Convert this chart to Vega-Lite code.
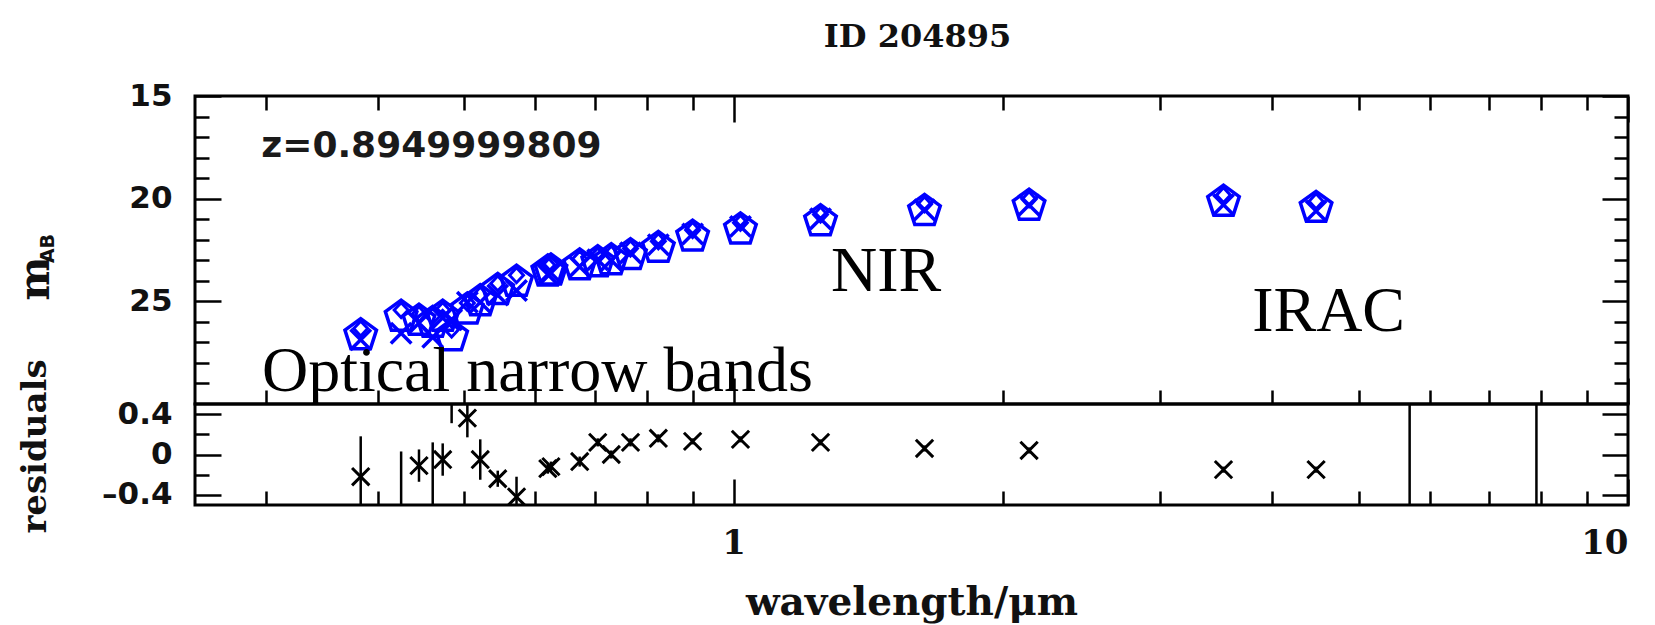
{
  "$schema": "https://vega.github.io/schema/vega-lite/v6.json",
  "background": "white",
  "padding": {"left": 12, "top": 20, "right": 25, "bottom": 2},
  "title": {
    "text": "ID 204895",
    "font": "DejaVu Serif",
    "fontSize": 32,
    "fontWeight": "bold",
    "color": "#111111",
    "anchor": "middle",
    "frame": "group",
    "offset": 25,
    "dx": 6
  },
  "datasets": {
    "bands": [
      {"lam": 0.383, "model": 26.65, "obs": 26.87, "resid": -0.22, "lo": -0.62, "hi": 0.18},
      {"lam": 0.425, "model": 25.75, "obs": 26.55, "resid": -0.80, "lo": -1.63, "hi": 0.03},
      {"lam": 0.445, "model": 25.95, "obs": 26.06, "resid": -0.11, "lo": -0.27, "hi": 0.05},
      {"lam": 0.461, "model": 26.05, "obs": 26.75, "resid": -0.70, "lo": -1.52, "hi": 0.12},
      {"lam": 0.473, "model": 25.75, "obs": 25.80, "resid": -0.05, "lo": -0.21, "hi": 0.11},
      {"lam": 0.484, "model": 26.70, "obs": 25.90, "resid": 0.80, "lo": 0.31, "hi": 1.29},
      {"lam": 0.504, "model": 25.40, "obs": 25.04, "resid": 0.36, "lo": 0.17, "hi": 0.55},
      {"lam": 0.521, "model": 25.00, "obs": 25.05, "resid": -0.05, "lo": -0.25, "hi": 0.15},
      {"lam": 0.545, "model": 24.45, "obs": 24.69, "resid": -0.24, "lo": -0.32, "hi": -0.16},
      {"lam": 0.572, "model": 24.05, "obs": 24.47, "resid": -0.42, "lo": -0.62, "hi": -0.22},
      {"lam": 0.620, "model": 23.55, "obs": 23.69, "resid": -0.14, "lo": -0.19, "hi": -0.09},
      {"lam": 0.625, "model": 23.50, "obs": 23.62, "resid": -0.12, "lo": -0.17, "hi": -0.07},
      {"lam": 0.673, "model": 23.25, "obs": 23.32, "resid": -0.07, "lo": -0.12, "hi": -0.02},
      {"lam": 0.705, "model": 23.10, "obs": 22.98, "resid": 0.12, "lo": 0.08, "hi": 0.16},
      {"lam": 0.730, "model": 23.00, "obs": 23.00, "resid": 0.00, "lo": -0.04, "hi": 0.04},
      {"lam": 0.767, "model": 22.75, "obs": 22.63, "resid": 0.12, "lo": 0.08, "hi": 0.16},
      {"lam": 0.824, "model": 22.40, "obs": 22.24, "resid": 0.16, "lo": 0.12, "hi": 0.20},
      {"lam": 0.900, "model": 21.85, "obs": 21.72, "resid": 0.13, "lo": 0.10, "hi": 0.16},
      {"lam": 1.018, "model": 21.50, "obs": 21.35, "resid": 0.15, "lo": 0.12, "hi": 0.18},
      {"lam": 1.251, "model": 21.10, "obs": 20.98, "resid": 0.12, "lo": 0.09, "hi": 0.15},
      {"lam": 1.635, "model": 20.60, "obs": 20.54, "resid": 0.06, "lo": 0.03, "hi": 0.09},
      {"lam": 2.140, "model": 20.35, "obs": 20.31, "resid": 0.04, "lo": 0.01, "hi": 0.07},
      {"lam": 3.530, "model": 20.15, "obs": 20.30, "resid": -0.15, "lo": -0.18, "hi": -0.12},
      {"lam": 4.480, "model": 20.45, "obs": 20.60, "resid": -0.15, "lo": -0.18, "hi": -0.12},
      {"lam": 5.700, "model": null, "obs": null, "resid": -3.0, "lo": -9.0, "hi": 3.0},
      {"lam": 7.900, "model": null, "obs": null, "resid": -3.0, "lo": -9.0, "hi": 3.0}
    ],
    "notes": [
      {"label": "Optical narrow bands", "lam": 0.297, "mag": 29.37},
      {"label": "NIR", "lam": 1.285, "mag": 24.51},
      {"label": "IRAC", "lam": 3.80, "mag": 26.43}
    ],
    "redshift": [
      {"label": "z=0.8949999809", "lam": 0.2965, "mag": 17.96}
    ]
  },
  "spacing": 0,
  "bounds": "flush",
  "vconcat": [
    {
      "width": 1433,
      "height": 308,
      "layer": [
        {
          "data": {"name": "bands"},
          "mark": {
            "type": "point",
            "shape": "M0,-1L0.951,-0.309L0.588,0.809L-0.588,0.809L-0.951,-0.309Z",
            "size": 1100,
            "filled": false,
            "stroke": "#0000ff",
            "strokeWidth": 3.5,
            "opacity": 1
          },
          "encoding": {
            "x": {
              "field": "lam", "type": "quantitative",
              "scale": {"type": "log", "domain": [0.25, 10], "nice": false},
              "axis": {"orient": "top", "values": [1, 10], "offset": -26, "tickSize": 26, "labels": false, "title": null}
            },
            "y": {
              "field": "model", "type": "quantitative",
              "scale": {"domain": [15, 30], "reverse": true, "nice": false, "zero": false},
              "axis": {
                "orient": "left", "values": [15, 20, 25], "offset": -26, "tickSize": 26,
                "labelFont": "DejaVu Sans", "labelFontSize": 31, "labelFontWeight": "bold", "labelPadding": 23,
                "title": "m", "titleFont": "DejaVu Serif", "titleFontSize": 42, "titleFontWeight": "bold",
                "titleAngle": -90, "titleAlign": "center", "titleBaseline": "middle",
                "titleX": -186, "titleY": 182
              }
            }
          }
        },
        {
          "data": {"name": "bands"},
          "mark": {
            "type": "point",
            "shape": "M-1,-1L1,1M-1,1L1,-1",
            "size": 420,
            "filled": false,
            "stroke": "#0000ff",
            "strokeWidth": 3.5,
            "opacity": 1
          },
          "encoding": {
            "x": {
              "field": "lam", "type": "quantitative",
              "axis": {"orient": "top", "values": [0.3, 0.4, 0.5, 0.6, 0.7, 0.8, 0.9, 2, 3, 4, 5, 6, 7, 8, 9], "offset": -14, "tickSize": 14, "labels": false, "title": null}
            },
            "y": {
              "field": "obs", "type": "quantitative",
              "axis": {"orient": "left", "values": [16, 17, 18, 19, 21, 22, 23, 24, 26, 27, 28, 29], "offset": -14, "tickSize": 14, "labels": false, "title": null}
            }
          }
        },
        {
          "data": {"name": "bands"},
          "mark": {
            "type": "point",
            "shape": "M0,-0.85L0.42,-0.4L0,0.05L-0.42,-0.4Z",
            "size": 1100,
            "filled": false,
            "stroke": "#0000ff",
            "strokeWidth": 3,
            "opacity": 1
          },
          "encoding": {
            "x": {
              "field": "lam", "type": "quantitative",
              "axis": {"orient": "bottom", "values": [1, 10], "offset": -26, "tickSize": 26, "labels": false, "title": null}
            },
            "y": {
              "field": "model", "type": "quantitative",
              "axis": {"orient": "right", "values": [15, 20, 25], "offset": -26, "tickSize": 26, "labels": false, "title": null}
            }
          }
        },
        {
          "data": {"name": "notes"},
          "mark": {
            "type": "text",
            "font": "Liberation Serif",
            "fontSize": 64,
            "align": "left",
            "baseline": "alphabetic",
            "color": "black"
          },
          "encoding": {
            "x": {
              "field": "lam", "type": "quantitative",
              "axis": {"orient": "bottom", "values": [0.3, 0.4, 0.5, 0.6, 0.7, 0.8, 0.9, 2, 3, 4, 5, 6, 7, 8, 9], "offset": -14, "tickSize": 14, "labels": false, "title": null}
            },
            "y": {
              "field": "mag", "type": "quantitative",
              "axis": {"orient": "right", "values": [16, 17, 18, 19, 21, 22, 23, 24, 26, 27, 28, 29], "offset": -14, "tickSize": 14, "labels": false, "title": null}
            },
            "text": {"field": "label"}
          }
        },
        {
          "data": {"name": "redshift"},
          "mark": {
            "type": "text",
            "font": "DejaVu Sans",
            "fontSize": 36,
            "fontWeight": "bold",
            "align": "left",
            "baseline": "alphabetic",
            "color": "#1a1a1a"
          },
          "encoding": {
            "x": {"field": "lam", "type": "quantitative", "axis": null},
            "y": {
              "field": "mag", "type": "quantitative",
              "axis": {
                "orient": "left", "ticks": false, "labels": false, "domain": false,
                "title": "AB", "titleFont": "DejaVu Sans", "titleFontSize": 19, "titleFontWeight": "bold",
                "titleAngle": -90, "titleAlign": "center", "titleBaseline": "middle",
                "titleX": -148, "titleY": 152
              }
            },
            "text": {"field": "label"}
          }
        }
      ],
      "resolve": {"axis": {"x": "independent", "y": "independent"}}
    },
    {
      "width": 1433,
      "height": 101,
      "layer": [
        {
          "data": {"name": "bands"},
          "mark": {
            "type": "point",
            "shape": "M-1,-1L1,1M-1,1L1,-1",
            "size": 300,
            "filled": false,
            "stroke": "black",
            "strokeWidth": 3,
            "opacity": 1,
            "clip": true
          },
          "encoding": {
            "x": {
              "field": "lam", "type": "quantitative",
              "scale": {"type": "log", "domain": [0.25, 10], "nice": false},
              "axis": {
                "orient": "bottom", "values": [1, 10], "offset": -26, "tickSize": 26,
                "labelFont": "DejaVu Serif", "labelFontSize": 34, "labelFontWeight": "bold", "labelPadding": 21,
                "title": "wavelength/μm", "titleFont": "DejaVu Serif", "titleFontSize": 39,
                "titleFontWeight": "bold", "titlePadding": 23
              }
            },
            "y": {
              "field": "resid", "type": "quantitative",
              "scale": {"domain": [-0.5, 0.5], "nice": false, "zero": false},
              "axis": {
                "orient": "left", "values": [-0.4, 0, 0.4], "offset": -26, "tickSize": 26,
                "labelFont": "DejaVu Sans", "labelFontSize": 31, "labelFontWeight": "bold", "labelPadding": 23,
                "labelExpr": "datum.value == 0 ? '0' : replace(format(datum.value, '.1f'), '−', '–')",
                "title": "residuals", "titleFont": "DejaVu Serif", "titleFontSize": 34, "titleFontWeight": "bold",
                "titleAngle": -90, "titleAlign": "center", "titleBaseline": "middle",
                "titleX": -186, "titleY": 42
              }
            }
          }
        },
        {
          "data": {"name": "bands"},
          "mark": {"type": "rule", "color": "black", "strokeWidth": 2.5, "clip": true},
          "encoding": {
            "x": {
              "field": "lam", "type": "quantitative",
              "axis": {"orient": "bottom", "values": [0.3, 0.4, 0.5, 0.6, 0.7, 0.8, 0.9, 2, 3, 4, 5, 6, 7, 8, 9], "offset": -14, "tickSize": 14, "labels": false, "title": null}
            },
            "y": {
              "field": "lo", "type": "quantitative",
              "axis": {"orient": "left", "values": [-0.2, 0.2], "offset": -14, "tickSize": 14, "labels": false, "title": null}
            },
            "y2": {"field": "hi"}
          }
        },
        {
          "mark": {"type": "rule", "color": "black", "strokeWidth": 3, "strokeDash": [3, 9]},
          "encoding": {
            "y": {
              "datum": 0, "type": "quantitative",
              "axis": {"orient": "right", "values": [-0.4, 0, 0.4], "offset": -26, "tickSize": 26, "labels": false, "title": null}
            }
          }
        },
        {
          "mark": {"type": "rule", "color": "black", "strokeWidth": 3, "strokeDash": [3, 9], "strokeOpacity": 0},
          "encoding": {
            "y": {
              "datum": 0, "type": "quantitative",
              "axis": {"orient": "right", "values": [-0.2, 0.2], "offset": -14, "tickSize": 14, "labels": false, "title": null}
            }
          }
        }
      ],
      "resolve": {"axis": {"x": "independent", "y": "independent"}}
    }
  ],
  "config": {
    "view": {"stroke": "black", "strokeWidth": 3},
    "axis": {
      "domain": false,
      "grid": false,
      "tickColor": "black",
      "tickWidth": 2.5,
      "labelColor": "#111111",
      "titleColor": "#111111"
    }
  }
}
